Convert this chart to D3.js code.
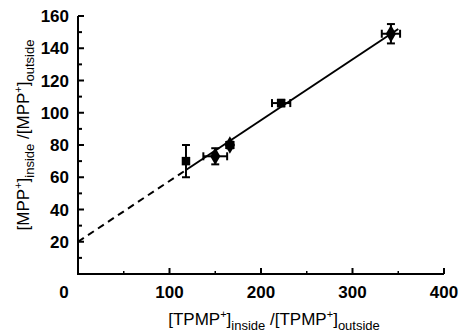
<!DOCTYPE html>
<html>
<head>
<meta charset="utf-8">
<script src="https://cdn.jsdelivr.net/npm/d3@7"></script>
<style>
  body { margin: 0; background: #fff; }
  text { font-family: "Liberation Sans", Arial, sans-serif; fill: #000; }
  .tick-label { font-weight: bold; font-size: 17px; }
  .title { font-size: 17px; }
  .title tspan.sub { font-size: 13px; }
  .title tspan.sup { font-size: 11px; }
</style>
</head>
<body>
<svg id="chart" width="459" height="335"></svg>
<script>
// data
var xVals   = [118, 150, 166, 222, 342];
var yVals   = [70, 73, 80, 106, 149];
var xErr    = [0, 13, 4, 10, 10];
var yErr    = [10, 5, 2, 2, 6];
var shapes  = ["square", "diamond", "diamond", "square", "diamond"];
var xTicks  = [0, 100, 200, 300, 400];
var yTicks  = [20, 40, 60, 80, 100, 120, 140, 160];
var fitIntercept = 20;
var fitSlope = 0.377;
var dashEnd = 118, solidEnd = 350;

var svg = d3.select("#chart");

var x = d3.scaleLinear().domain([0, 400]).range([78, 444]);
var y = d3.scaleLinear().domain([0, 160]).range([274, 16]);

var g = svg.append("g");

// axes lines
g.append("path")
  .attr("d", "M" + x(0) + "," + y(160) + "V" + y(0) + "H" + x(400))
  .attr("fill", "none").attr("stroke", "#000").attr("stroke-width", 2);

// y ticks (inside)
d3.range(10, 161, 10).forEach(function(v) {
  var len = (v % 20 == 0) ? 6 : 4;
  g.append("line")
    .attr("x1", x(0)).attr("x2", x(0) + len)
    .attr("y1", y(v)).attr("y2", y(v))
    .attr("stroke", "#000").attr("stroke-width", 2);
});
// x ticks (inside)
d3.range(50, 401, 50).forEach(function(v) {
  var len = (v % 100 == 0) ? 6 : 3;
  g.append("line")
    .attr("x1", x(v)).attr("x2", x(v))
    .attr("y1", y(0)).attr("y2", y(0) - len)
    .attr("stroke", "#000").attr("stroke-width", v % 100 == 0 ? 2 : 1.5);
});

// tick labels
g.selectAll(".ylab").data(yTicks).enter().append("text")
  .attr("class", "tick-label")
  .attr("x", x(0) - 9)
  .attr("y", function(d) { return y(d) + 6; })
  .attr("text-anchor", "end")
  .text(function(d) { return d; });

g.selectAll(".xlab").data(xTicks).enter().append("text")
  .attr("class", "tick-label")
  .attr("x", function(d) { return d == 0 ? x(d) - 14 : x(d); })
  .attr("y", y(0) + 24)
  .attr("text-anchor", "middle")
  .text(function(d) { return d; });

// axis titles
function titleText(sel, name) {
  sel.append("tspan").text("[" + name);
  sel.append("tspan").attr("class", "sup").attr("dy", -7).text("+");
  sel.append("tspan").attr("dy", 7).text("]");
  sel.append("tspan").attr("class", "sub").attr("dy", 5).text("inside");
  sel.append("tspan").attr("dy", -5).text(" /[" + name);
  sel.append("tspan").attr("class", "sup").attr("dy", -7).text("+");
  sel.append("tspan").attr("dy", 7).text("]");
  sel.append("tspan").attr("class", "sub").attr("dy", 5).text("outside");
}

var xt = svg.append("text").attr("class", "title")
  .attr("x", 274).attr("y", 325).attr("text-anchor", "middle");
titleText(xt, "TPMP");

var yt = svg.append("text").attr("class", "title")
  .attr("transform", "translate(29,135) rotate(-90)")
  .attr("text-anchor", "middle");
titleText(yt, "MPP");

// fit line
var fit = function(v) { return fitIntercept + fitSlope * v; };
g.append("line")
  .attr("x1", x(0)).attr("y1", y(fit(0)))
  .attr("x2", x(dashEnd)).attr("y2", y(fit(dashEnd)))
  .attr("stroke", "#000").attr("stroke-width", 2)
  .attr("stroke-dasharray", "7,5");
g.append("line")
  .attr("x1", x(dashEnd)).attr("y1", y(fit(dashEnd)))
  .attr("x2", x(solidEnd)).attr("y2", y(fit(solidEnd)))
  .attr("stroke", "#000").attr("stroke-width", 2);

// error bars and markers
var pts = xVals.map(function(v, i) {
  return {x: v, y: yVals[i], ex: xErr[i], ey: yErr[i], shape: shapes[i]};
});
var cap = 4;
pts.forEach(function(p) {
  var cx = x(p.x), cy = y(p.y);
  if (p.ey > 0) {
    g.append("line").attr("x1", cx).attr("x2", cx)
      .attr("y1", y(p.y - p.ey)).attr("y2", y(p.y + p.ey))
      .attr("stroke", "#000").attr("stroke-width", 2);
    [p.y - p.ey, p.y + p.ey].forEach(function(e) {
      g.append("line").attr("x1", cx - cap).attr("x2", cx + cap)
        .attr("y1", y(e)).attr("y2", y(e))
        .attr("stroke", "#000").attr("stroke-width", 2);
    });
  }
  if (p.ex > 0) {
    g.append("line").attr("y1", cy).attr("y2", cy)
      .attr("x1", x(p.x - p.ex)).attr("x2", x(p.x + p.ex))
      .attr("stroke", "#000").attr("stroke-width", 2);
    [p.x - p.ex, p.x + p.ex].forEach(function(e) {
      g.append("line").attr("y1", cy - cap).attr("y2", cy + cap)
        .attr("x1", x(e)).attr("x2", x(e))
        .attr("stroke", "#000").attr("stroke-width", 2);
    });
  }
  var sym = p.shape == "square" ? d3.symbolSquare : d3.symbolDiamond;
  var size = p.shape == "square" ? 72 : 90;
  g.append("path")
    .attr("d", d3.symbol().type(sym).size(size)())
    .attr("transform", "translate(" + cx + "," + cy + ")")
    .attr("fill", "#000");
});
</script>
</body>
</html>
